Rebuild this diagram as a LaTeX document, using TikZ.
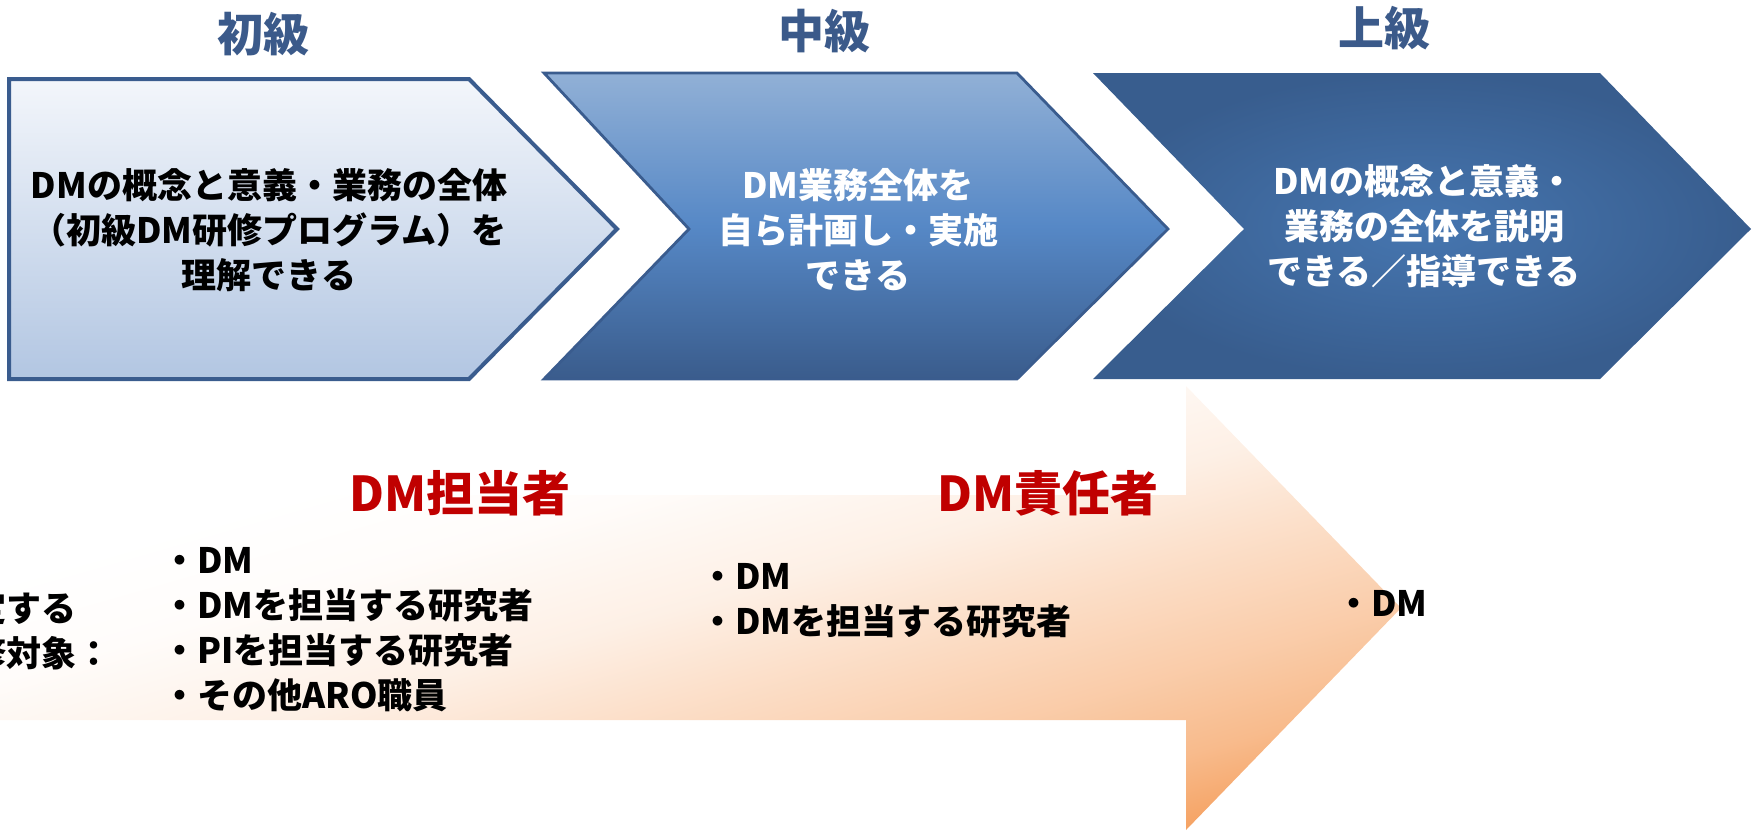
\documentclass[tikz,border=0pt]{standalone}
\usepackage{fontspec}
\setmainfont{Noto Sans CJK JP}
\usepackage{tikz}
\definecolor{TitleBlue}{RGB}{59,90,138}
\definecolor{EdgeBlue}{RGB}{58,92,142}
\definecolor{LightTop}{RGB}{243,246,251}
\definecolor{LightBot}{RGB}{178,198,226}
\definecolor{MidTop}{RGB}{145,176,214}
\definecolor{MidMid}{RGB}{86,136,198}
\definecolor{MidBot}{RGB}{58,92,140}
\definecolor{DarkIn}{RGB}{70,118,176}
\definecolor{DarkOut}{RGB}{56,93,142}
\definecolor{Peach}{RGB}{245,160,95}
\definecolor{DeepRed}{RGB}{192,0,0}
\pgfdeclareverticalshading{peachfade}{100bp}{color(0bp)=(Peach); color(30bp)=(Peach); color(34.4bp)=(Peach!72!white); color(38.9bp)=(Peach!54!white); color(45.2bp)=(Peach!33!white); color(50bp)=(Peach!16!white); color(56.7bp)=(Peach!3!white); color(62bp)=(white); color(100bp)=(white)}
\tikzset{
  gradetitle/.style={inner sep=0pt, font=\bfseries\fontsize{23}{28}\selectfont, text=TitleBlue},
  goaltext/.style={inner sep=0pt, align=center, font=\bfseries\fontsize{17.5}{22.5}\selectfont},
  roletitle/.style={inner sep=0pt, font=\bfseries\fontsize{24}{28}\selectfont, text=DeepRed},
  targetlist/.style={inner sep=0pt, anchor=west, align=left, font=\bfseries\fontsize{17.5}{22.5}\selectfont},
}

\begin{document}
\begin{tikzpicture}[x=0.5pt, y=-0.5pt]
    \useasboundingbox (0,0) rectangle (1758,831);
    \begin{scope}
        \clip (-40,495) to (1186,495) to (1186,386) to (1401,608) to (1186,830) to (1186,720) to (-40,720) -- cycle;
        \begin{scope}[transform canvas={rotate around={16:(680,608)}}]
            \shade[shading=peachfade] (-320,158) rectangle (1680,1058);
        \end{scope}
    \end{scope}
    \draw[line width=2pt, draw=EdgeBlue, top color=LightTop, bottom color=LightBot] (9,79) to (469,79) to (617,229) to (469,379) to (9,379) -- cycle;
    \draw[line width=1.4pt, draw=EdgeBlue, top color=MidTop, bottom color=MidBot, middle color=MidMid] (544,73) to (1017,73) to (1168,229) to (1017,379) to (544,379) to (689,229) -- cycle;
    \shade[inner color=DarkIn, outer color=DarkOut] (1093,73) to (1600,73) to (1751,229) to (1600,379) to (1093,379) to (1244,229) -- cycle;

    \node[gradetitle] (basic) at (263,34) {初級};
    \node[gradetitle] (middle) at (824,31) {中級};
    \node[gradetitle] (advanced) at (1384,28) {上級};

    \node[goaltext] (basicgoal) at (269,230) {DMの概念と意義・業務の全体\\（初級DM研修プログラム）を\\理解できる};
    \node[goaltext, text=white] (middlegoal) at (858,230) {DM業務全体を\\自ら計画し・実施\\できる};
    \node[goaltext, text=white] (advancedgoal) at (1424,226) {DMの概念と意義・\\業務の全体を説明\\できる／指導できる};

    \node[roletitle] (staff) at (460,493) {DM担当者};
    \node[roletitle] (lead) at (1048,493) {DM責任者};

    \node[targetlist] (scope) at (-64,631) {想定する\\研修対象：};
    \node[targetlist] (staffwho) at (162,630) {・DM\\・DMを担当する研究者\\・PIを担当する研究者\\・その他ARO職員};
    \node[targetlist] (leadwho) at (700,601) {・DM\\・DMを担当する研究者};
    \node[targetlist] (topwho) at (1336,603) {・DM};
\end{tikzpicture}
\end{document}
